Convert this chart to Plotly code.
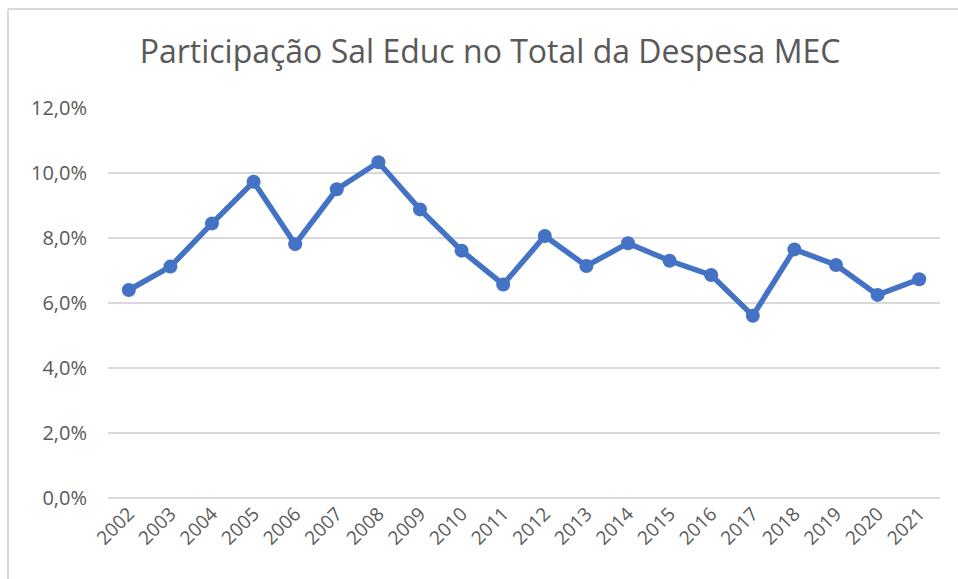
import plotly.graph_objects as go

years = [str(y) for y in range(2002, 2022)]
share = [6.40, 7.12, 8.45, 9.73, 7.81, 9.50, 10.33, 8.88, 7.61, 6.57,
         8.06, 7.14, 7.84, 7.30, 6.86, 5.61, 7.65, 7.17, 6.25, 6.73]
share_frac = [v / 100 for v in share]
title_text = "Participação Sal Educ no Total da Despesa MEC"

W, H = 958, 579
ml, mr, mt, mb = 108, 18, 108, 81
pw = W - ml - mr
ph = H - mt - mb


def px_x(p):
    return (p - ml) / pw


def px_y(p):
    return (H - mb - p) / ph


fig = go.Figure()
fig.add_trace(go.Scatter(
    x=years, y=share_frac, mode="lines+markers",
    line=dict(color="#4472C4", width=5.5),
    marker=dict(color="#4472C4", size=14),
    hoverinfo="x+y",
))

border = dict(color="#d9d9d9", width=2)
fig.update_layout(
    width=W, height=H,
    margin=dict(l=ml, r=mr, t=mt, b=mb, autoexpand=False),
    paper_bgcolor="white", plot_bgcolor="white",
    separators=",.",
    showlegend=False,
    title=dict(text=title_text, x=490 / W, xanchor="center", y=1 - 52 / H, yanchor="middle",
               font=dict(family="Open Sans", size=32, color="#595959")),
    font=dict(family="Open Sans", color="#595959"),
    xaxis=dict(type="category", range=[-0.5, 19.5], tickangle=-45, automargin=False,
               showgrid=False, showline=False, ticks="",
               tickfont=dict(size=19, color="#595959")),
    yaxis=dict(range=[0, 0.12], dtick=0.02, tickformat=".1%", automargin=False,
               showgrid=True, gridcolor="#d9d9d9", gridwidth=1.5,
               zeroline=True, zerolinecolor="#d9d9d9", zerolinewidth=1.5,
               showline=False, ticks="", ticklen=0, ticklabelstandoff=20,
               tickfont=dict(size=20, color="#595959")),
    shapes=[
        dict(type="line", xref="paper", yref="paper",
             x0=px_x(8), x1=px_x(960), y0=px_y(9), y1=px_y(9), line=border, layer="below"),
        dict(type="line", xref="paper", yref="paper",
             x0=px_x(8), x1=px_x(8), y0=px_y(9), y1=px_y(582), line=border, layer="below"),
    ],
)

fig.write_html("out.html", config={"displayModeBar": False},
               post_script="document.body.style.margin='0';document.body.style.overflow='hidden';")
